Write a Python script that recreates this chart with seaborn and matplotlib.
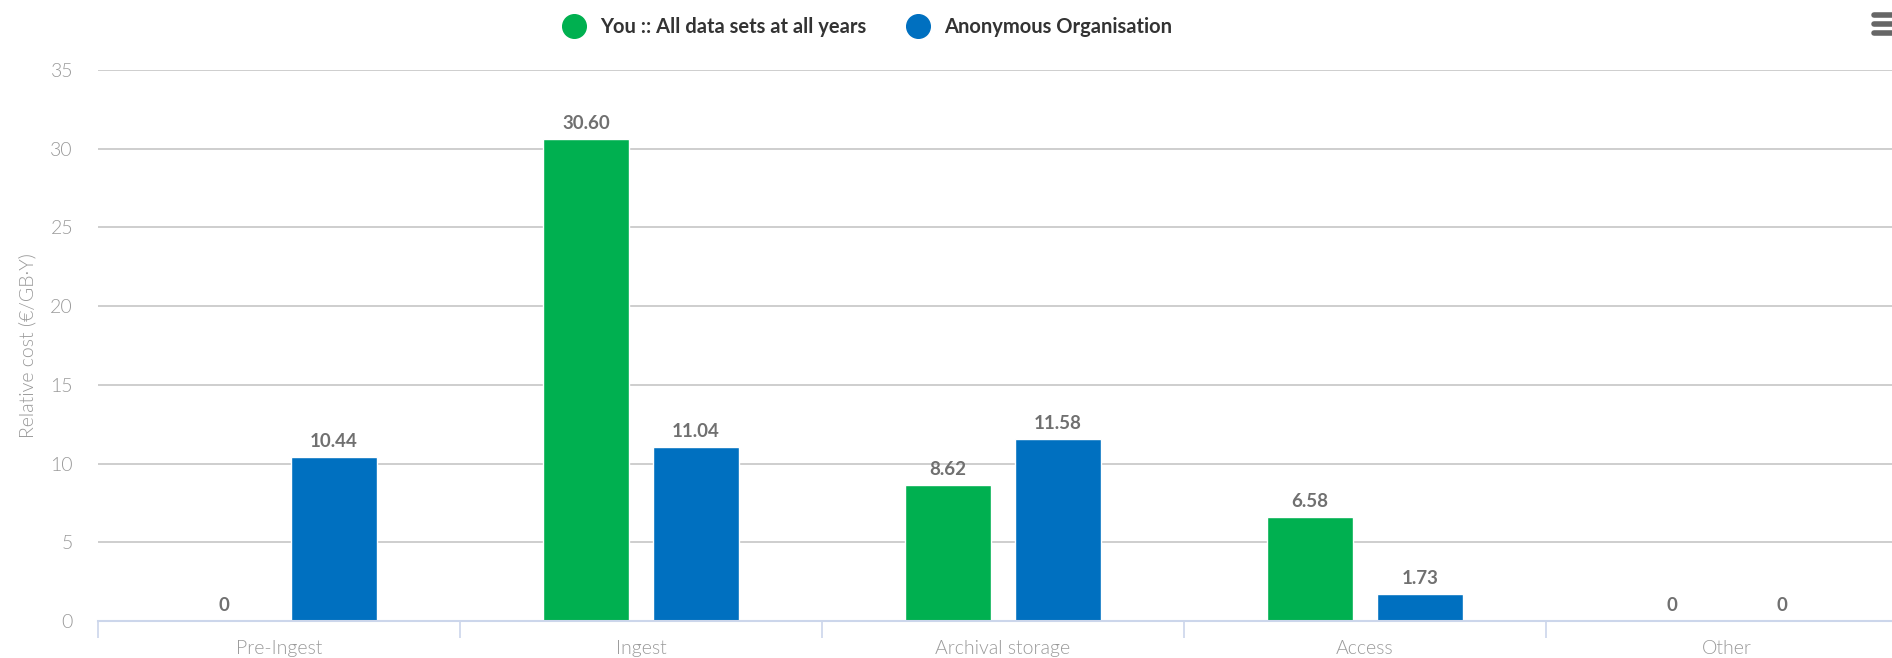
import seaborn as sns
import matplotlib.pyplot as plt
import pandas as pd
from matplotlib.lines import Line2D

# values
categories = ['Pre-Ingest', 'Ingest', 'Archival storage', 'Access', 'Other']
series_names = ['You :: All data sets at all years', 'Anonymous Organisation']
you_values = [0, 30.60, 8.62, 6.58, 0]
anon_values = [10.44, 11.04, 11.58, 1.73, 0]
y_ticks = [0, 5, 10, 15, 20, 25, 30, 35]

colors = ['#00B050', '#0070C0']

data = pd.DataFrame({
    'category': categories * 2,
    'series': [series_names[0]] * len(categories) + [series_names[1]] * len(categories),
    'value': you_values + anon_values,
})

sns.set_style('white')
plt.rcParams['font.family'] = ['Lato', 'DejaVu Sans']

W, H = 1892, 658
fig = plt.figure(figsize=(W / 100, H / 100), dpi=100)
ax = fig.add_axes([98 / W, 37 / H, 1810 / W, 551 / H])

sns.barplot(data=data, x='category', y='value', hue='series', order=categories,
            hue_order=series_names, palette=colors, width=0.607, gap=0.218,
            saturation=1, legend=False, ax=ax)

for container in ax.containers:
    labels = ['0' if v == 0 else f'{v:.2f}' for v in container.datavalues]
    ax.bar_label(container, labels=labels, padding=5, fontsize=13.5,
                 fontweight='bold', color='#707070')

ax.set_xlim(-0.5, len(categories) - 0.5)
ax.set_ylim(0, 35)
ax.set_yticks(y_ticks)
ax.yaxis.grid(True, color='#c6c6c6', linewidth=1.2)
ax.set_axisbelow(True)
for side in ['top', 'right', 'left']:
    ax.spines[side].set_visible(False)
ax.spines['bottom'].set_color('#ccd6eb')
ax.spines['bottom'].set_linewidth(1.5)

ax.tick_params(axis='y', length=0, pad=18, labelsize=14, labelcolor='#999999')
ax.tick_params(axis='x', which='major', length=0, pad=14, labelsize=14,
               labelcolor='#999999')
ax.set_xticks([i + 0.5 for i in range(-1, len(categories))], minor=True)
ax.tick_params(axis='x', which='minor', bottom=True, length=12, width=1.2,
               color='#ccd6eb')
for lab in ax.get_xticklabels() + ax.get_yticklabels():
    lab.set_fontweight(300)

ax.set_xlabel('')
ax.set_ylabel('Relative cost (€/GB·Y)', fontsize=14, color='#999999',
              fontweight=300, labelpad=10)

handles = [Line2D([0], [0], marker='o', linestyle='', markersize=17,
                  markerfacecolor=c, markeredgecolor=c) for c in colors]
fig.legend(handles, series_names, loc='center', bbox_to_anchor=(863 / W, 1 - 27 / H),
           ncol=2, frameon=False, handletextpad=0.3, columnspacing=1.6,
           prop={'weight': 'bold', 'size': 14.5}, labelcolor='#333333')

# menu icon in the top right corner
for yy in [15, 24, 33]:
    fig.add_artist(Line2D([1874 / W, 1.0], [1 - yy / H, 1 - yy / H],
                          color='#666666', linewidth=4, solid_capstyle='round'))

fig.savefig('out.png', dpi=100)
